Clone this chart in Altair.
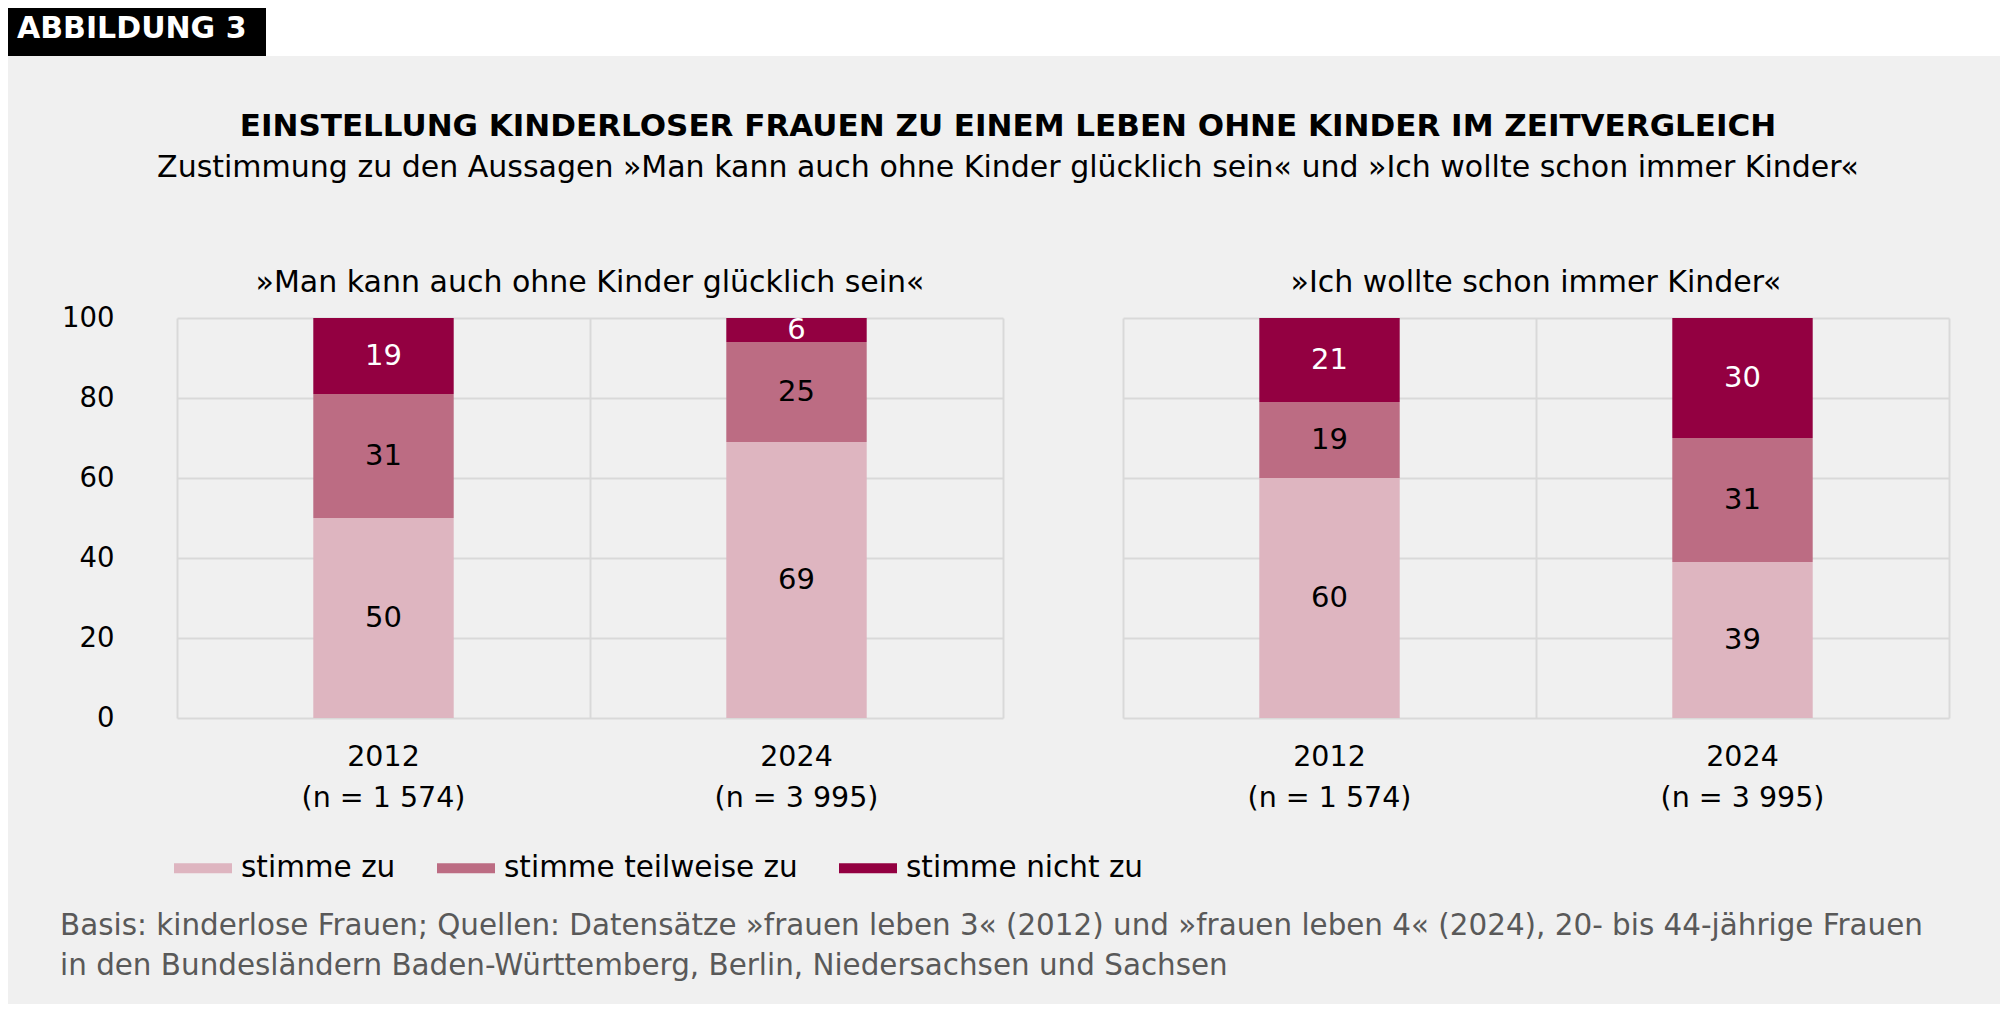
import altair as alt
import pandas as pd

FONT = "DejaVu Sans"

# ---------------- data ----------------
panels = ["»Man kann auch ohne Kinder glücklich sein«", "»Ich wollte schon immer Kinder«"]
years = ["2012", "2024"]
n_labels = ["(n = 1 574)", "(n = 3 995)"]
categories = ["stimme zu", "stimme teilweise zu", "stimme nicht zu"]
colors = ["#deb5c0", "#bc6c83", "#930041"]

gluecklich_2012 = [50, 31, 19]
gluecklich_2024 = [69, 25, 6]
kinder_2012 = [60, 19, 21]
kinder_2024 = [39, 31, 30]

badge = "ABBILDUNG 3"
title = "EINSTELLUNG KINDERLOSER FRAUEN ZU EINEM LEBEN OHNE KINDER IM ZEITVERGLEICH"
subtitle = "Zustimmung zu den Aussagen »Man kann auch ohne Kinder glücklich sein« und »Ich wollte schon immer Kinder«"
footnote_lines = [
    "Basis: kinderlose Frauen; Quellen: Datensätze »frauen leben 3« (2012) und »frauen leben 4« (2024), 20- bis 44-jährige Frauen",
    "in den Bundesländern Baden-Württemberg, Berlin, Niedersachsen und Sachsen",
]

series = {
    (panels[0], years[0]): gluecklich_2012,
    (panels[0], years[1]): gluecklich_2024,
    (panels[1], years[0]): kinder_2012,
    (panels[1], years[1]): kinder_2024,
}
rows = []
for (p, y), vals in series.items():
    for i, (c, v) in enumerate(zip(categories, vals)):
        rows.append({"panel": p, "year": y, "category": c, "order": i, "value": v})
df = pd.DataFrame(rows)

# layout (pixels relative to the left panel's plot origin)
LEFT = 169          # space left of the first plot
TOP = 310           # space above the plot
FULL_W = 1992
FULL_H = 996
PLOT_W, PLOT_H = 826, 400

# ---------------- axes / scales ----------------
label_expr = " : ".join(
    f"datum.label == '{y}' ? ['{y}', '{n}']" for y, n in zip(years[:-1], n_labels[:-1])
) + f" : ['{years[-1]}', '{n_labels[-1]}']"

x_axis = alt.Axis(title=None, labelAngle=0, ticks=False, domain=False, grid=False,
                  labelExpr=label_expr, labelFont=FONT,
                  labelFontSize=28.5, labelColor="black", labelLineHeight=41,
                  labelPadding=24)
x_grid_axis = alt.Axis(title=None, orient="top", labels=False, ticks=False, domain=False,
                       grid=True, tickBand="extent")
y_axis = alt.Axis(title=None, values=[0, 20, 40, 60, 80, 100], ticks=False, domain=False,
                  grid=True, labelFont=FONT, labelFontSize=27.5, labelColor="black",
                  labelPadding=63, minExtent=LEFT)

x_scale = alt.Scale(paddingInner=0, paddingOuter=0)
y_scale = alt.Scale(domain=[0, 100], nice=False)

bars = alt.Chart().mark_bar(width=alt.RelativeBandSize(0.34)).encode(
    x=alt.X("year:N", sort=years, scale=x_scale, axis=x_axis),
    y=alt.Y("v0:Q", scale=y_scale, axis=y_axis),
    y2="v1:Q",
    color=alt.Color("category:N", sort=categories,
                    scale=alt.Scale(domain=categories, range=colors),
                    legend=alt.Legend(title=None, orient="none", legendX=-3, legendY=521,
                                      direction="horizontal",
                                      symbolType="M-1,-0.17H1V0.17H-1Z", symbolSize=3364,
                                      symbolStrokeWidth=0, labelFont=FONT, labelFontSize=29.5,
                                      labelColor="black", labelOffset=9, columnPadding=41,
                                      labelLimit=0, padding=0)),
)
labels = alt.Chart().mark_text(font=FONT, fontSize=29, baseline="middle").encode(
    x=alt.X("year:N", sort=years, scale=x_scale, axis=x_grid_axis),
    y=alt.Y("mid:Q", scale=y_scale, axis=y_axis),
    text=alt.Text("value:Q"),
    color=alt.condition(alt.datum.category == categories[-1], alt.value("white"), alt.value("black")),
)

# ---------------- page decorations (drawn once, in the first panel) ----------------
first = (alt.datum.panel == panels[0]) & (alt.datum.year == years[0]) & (alt.datum.order == 0)
deco = alt.Chart().transform_filter(first)
bg_fill = deco.mark_rect(color="#f0f0f0").encode(
    x=alt.value(-LEFT), x2=alt.value(FULL_W - LEFT),
    y=alt.value(PLOT_H + 200), y2=alt.value(FULL_H - TOP))
white_strip = deco.mark_rect(color="white").encode(
    x=alt.value(-LEFT), x2=alt.value(FULL_W - LEFT), y=alt.value(-TOP), y2=alt.value(-TOP + 48))
black_box = deco.mark_rect(color="black").encode(
    x=alt.value(-LEFT), x2=alt.value(-LEFT + 258), y=alt.value(-TOP), y2=alt.value(-TOP + 48))
badge_txt = deco.mark_text(font=FONT, fontSize=30, fontWeight="bold", color="white",
                           align="left", baseline="middle").encode(
    x=alt.value(-LEFT + 9), y=alt.value(-TOP + 21), text=alt.value(badge))
title_txt = deco.mark_text(font=FONT, fontSize=31, fontWeight="bold", color="black",
                           align="center", baseline="middle").encode(
    x=alt.value(FULL_W / 2 - LEFT + 4), y=alt.value(-191), text=alt.value(title))
sub_txt = deco.mark_text(font=FONT, fontSize=30, color="black",
                         align="center", baseline="middle").encode(
    x=alt.value(FULL_W / 2 - LEFT + 4), y=alt.value(-150), text=alt.value(subtitle))
foot_layers = [
    deco.mark_text(font=FONT, fontSize=29.4, color="#595959", align="left",
                   baseline="middle").encode(
        x=alt.value(52 - LEFT), y=alt.value(608 + 40 * i), text=alt.value(line))
    for i, line in enumerate(footnote_lines)
]

panel_chart = alt.layer(
    bg_fill, white_strip, black_box, badge_txt, title_txt, sub_txt, *foot_layers,
    bars, labels, data=df
).resolve_axis(x="independent").transform_stack(
    stack="value", as_=["v0", "v1"], groupby=["panel", "year"],
    sort=[alt.SortField("order", order="ascending")]
).transform_calculate(mid="(datum.v0 + datum.v1) / 2").properties(
    width=PLOT_W, height=PLOT_H
).facet(
    column=alt.Column("panel:N", sort=panels,
                      header=alt.Header(title=None, labelFont=FONT, labelFontSize=30,
                                        labelColor="black", labelPadding=20)),
    spacing=120,
    bounds="flush",
)

chart = panel_chart.properties(background="#f0f0f0", padding=0).configure_view(
    stroke=None).configure_axis(gridColor="#d9d9d9", gridWidth=2)

chart.save("out.html", embed_options={"renderer": "svg", "actions": False})
